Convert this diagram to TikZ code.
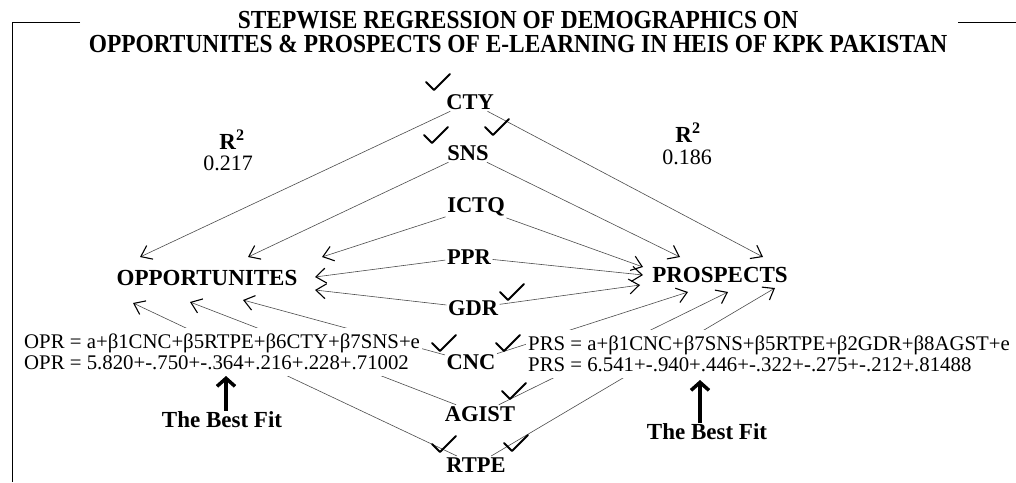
\documentclass[tikz,border=0pt]{standalone}
\usepackage{fontspec}
\setmainfont{Liberation Serif}
\newfontfamily\titlefont[FakeStretch=0.9]{Liberation Serif}
\usetikzlibrary{arrows.meta}

\tikzset{tick/.pic={\draw[line width=1.9pt,line cap=round,line join=round]
    (-12,-2) -- (-4,6) -- (12,-10);}}

\begin{document}
\begin{tikzpicture}
    [x=1pt,y=-1pt,
    heading/.style={font=\titlefont\fontsize{26}{28}\selectfont\bfseries,inner sep=0pt},
    var/.style={font=\fontsize{22.5}{24}\selectfont\bfseries,inner sep=1.5pt},
    outcome/.style={font=\fontsize{23}{25}\selectfont\bfseries,inner sep=1pt},
    value/.style={font=\fontsize{22}{24}\selectfont,inner sep=0pt},
    eqn/.style={font=\fontsize{20.8}{21.5}\selectfont,fill=white,align=left,
      inner xsep=2pt,inner ysep=6pt},
    link/.style={draw=black!70,line width=0.6pt,
      -{Straight Barb[length=10pt,width=15pt,line width=1.1pt,color=black]}},
    fitarrow/.style={line width=3.5pt,-{Straight Barb[length=8pt,width=18pt]}}]

    \useasboundingbox (0,0) rectangle (1016,482);

    % title and frame
    \node (title 1) at (518,20) [heading] {STEPWISE REGRESSION OF DEMOGRAPHICS ON};
    \node (title 2) at (518,44) [heading] {OPPORTUNITES \& PROSPECTS OF E-LEARNING IN HEIS OF KPK PAKISTAN};
    \draw[line width=0.8pt] (80,22) -- (12,22) -- (12,482);
    \draw[line width=0.8pt] (958,22) -- (1016,22);

    % demographics
    \node (cty)   at (470,102) [var] {CTY};
    \node (sns)   at (468,153) [var] {SNS};
    \node (ictq)  at (476,207) [var] {ICTQ};
    \node (ppr)   at (469,257) [var] {PPR};
    \node (gdr)   at (473,308) [var] {GDR};
    \node (cnc)   at (471,362) [var] {CNC};
    \node (agist) at (480,414) [var] {AGIST};
    \node (rtpe)  at (476,465) [var] {RTPE};

    % outcomes
    \node (opportunites) at (207,278) [outcome] {OPPORTUNITES};
    \node (prospects)    at (720,275) [outcome] {PROSPECTS};

    \node (r2 opr)  at (232,140) [outcome] {R\textsuperscript{2}};
    \node (val opr) at (228,163) [value] {0.217};
    \node (r2 prs)  at (688,133) [outcome] {R\textsuperscript{2}};
    \node (val prs) at (687,157) [value] {0.186};

    % arrow ends round the outcomes
    \coordinate (opr cty)   at (140,257);
    \coordinate (opr sns)   at (248,257);
    \coordinate (opr ictq)  at (322,257);
    \coordinate (opr ppr)   at (315,277);
    \coordinate (opr gdr)   at (315,290);
    \coordinate (opr cnc)   at (243,300);
    \coordinate (opr agist) at (190,302);
    \coordinate (opr rtpe)  at (133,303);
    \coordinate (prs cty)   at (763,257);
    \coordinate (prs sns)   at (680,257);
    \coordinate (prs ictq)  at (643,267);
    \coordinate (prs ppr)   at (643,275);
    \coordinate (prs gdr)   at (640,285);
    \coordinate (prs cnc)   at (688,292);
    \coordinate (prs agist) at (728,292);
    \coordinate (prs rtpe)  at (775,288);

    \draw[link] (cty) -- (opr cty);
    \draw[link] (sns) -- (opr sns);
    \draw[link] (ictq) -- (opr ictq);
    \draw[link] (ppr) -- (opr ppr);
    \draw[link] (gdr) -- (opr gdr);
    \draw[link] (cnc) -- (opr cnc);
    \draw[link] (agist) -- (opr agist);
    \draw[link] (rtpe) -- (opr rtpe);

    \draw[link] (cty) -- (prs cty);
    \draw[link] (sns) -- (prs sns);
    \draw[link] (ictq) -- (prs ictq);
    \draw[link] (ppr) -- (prs ppr);
    \draw[link] (gdr) -- (prs gdr);
    \draw[link] (cnc) -- (prs cnc);
    \draw[link] (agist) -- (prs agist);
    \draw[link] (rtpe) -- (prs rtpe);

    % equations (white, over the links)
    \node (opr eq) at (22,352) [eqn,anchor=west]
      {OPR = a+β1CNC+β5RTPE+β6CTY+β7SNS+e\\OPR = 5.820+-.750+-.364+.216+.228+.71002};
    \node (prs eq) at (526,354) [eqn,anchor=west]
      {PRS = a+β1CNC+β7SNS+β5RTPE+β2GDR+β8AGST+e\\PRS = 6.541+-.940+.446+-.322+-.275+-.212+.81488};

    % ticks
    \pic at (438,84)  {tick};
    \pic at (436,137) {tick};
    \pic at (497,129) {tick};
    \pic at (512,294) {tick};
    \pic at (444,345) {tick};
    \pic at (508,345) {tick};
    \pic at (514,393) {tick};
    \pic at (444,446) {tick};
    \pic at (516,445) {tick};

    % best fit
    \node (best opr) at (222,420) [outcome] {The Best Fit};
    \node (best prs) at (707,432) [outcome] {The Best Fit};
    \coordinate (fit opr) at (226,376);
    \coordinate (fit prs) at (700,380);
    \draw[fitarrow] (best opr.north -| fit opr) -- (fit opr);
    \draw[fitarrow] (best prs.north -| fit prs) -- (fit prs);

  \end{tikzpicture}
\end{document}
